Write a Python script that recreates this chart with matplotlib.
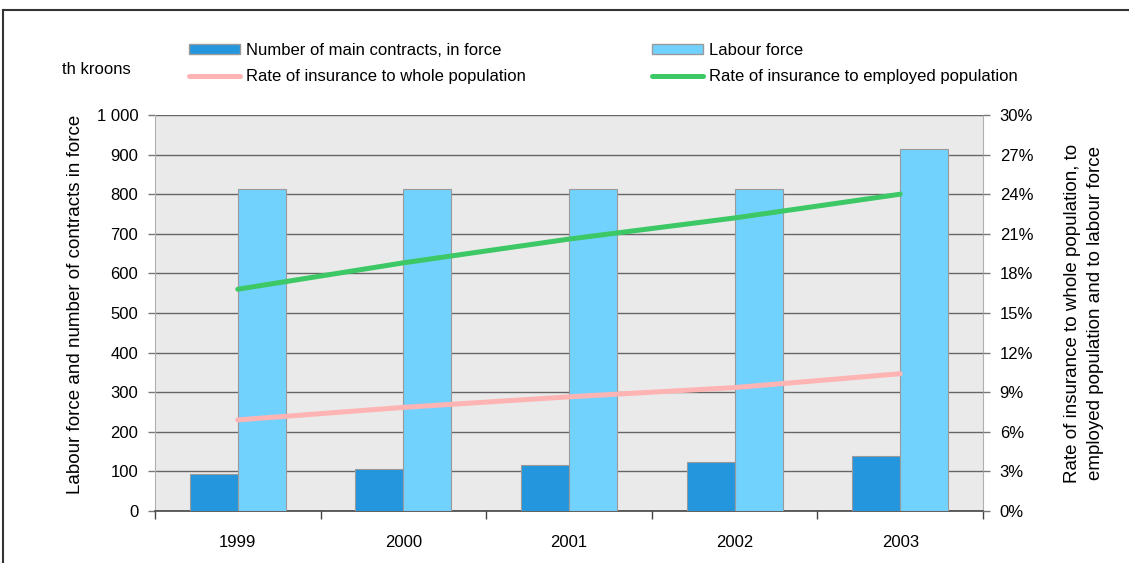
import matplotlib
matplotlib.use("Agg")
import matplotlib.pyplot as plt
from matplotlib.lines import Line2D
from matplotlib.patches import Patch
import numpy as np

plt.rcParams['font.family'] = ['Liberation Sans', 'DejaVu Sans']

years = ['1999', '2000', '2001', '2002', '2003']
contracts = [94, 105, 115, 125, 140]          # th, main contracts in force
labour_force = [813, 813, 813, 813, 915]      # th
rate_whole = [6.9, 7.85, 8.65, 9.35, 10.4]    # %
rate_employed = [16.8, 18.8, 20.6, 22.2, 24.0]  # %

c_dark = '#2396DE'
c_light = '#72D2FE'
c_pink = '#FFB4B4'
c_green = '#3CC864'
c_grid = '#666666'
lw_rate = 3.6

W, H = 1129, 563
fig = plt.figure(figsize=(W / 100, H / 100), dpi=100)
ax = fig.add_axes([155 / W, 52 / H, 828 / W, 396 / H])
ax.set_facecolor('#EAEAEA')

x = np.arange(len(years))
w = 0.29
ax.bar(x - w / 2, contracts, w, color=c_dark, edgecolor='#9a9a9a', linewidth=0.8, zorder=3)
ax.bar(x + w / 2, labour_force, w, color=c_light, edgecolor='#9a9a9a', linewidth=0.8, zorder=3)

ax.set_xlim(-0.5, len(years) - 0.5)
ax.set_ylim(0, 1000)
ax.set_yticks(range(0, 1001, 100))
ax.set_yticklabels(['0', '100', '200', '300', '400', '500', '600', '700', '800', '900', '1 000'])
ax.yaxis.grid(True, color=c_grid, linewidth=1.0, zorder=1)
ax.set_axisbelow(True)

# category ticks sit between the groups, labels in the middle
ax.set_xticks(np.arange(-0.5, len(years), 1.0))
ax.set_xticklabels([])
ax.set_xticks(x, minor=True)
ax.set_xticklabels(years, minor=True)
ax.tick_params(axis='x', which='major', length=6, width=1, color='#444444', direction='out')
ax.tick_params(axis='x', which='minor', length=0, pad=17, labelsize=12)
ax.tick_params(axis='y', length=5, width=1, color='#777777', labelsize=12, pad=7)

for side in ['left', 'right']:
    ax.spines[side].set_color('#b0b0b0')
ax.spines['top'].set_visible(False)
ax.spines['bottom'].set_color('#444444')
ax.spines['bottom'].set_linewidth(1.2)

ax.set_ylabel('Labour force and number of contracts in force', fontsize=13.5)
ax.yaxis.set_label_coords(-0.086, 0.523)

ax2 = ax.twinx()
ax2.plot(x, rate_whole, color=c_pink, linewidth=lw_rate, solid_capstyle='round', zorder=5)
ax2.plot(x, rate_employed, color=c_green, linewidth=lw_rate, solid_capstyle='round', zorder=5)
ax2.set_ylim(0, 30)
ax2.set_yticks(range(0, 31, 3))
ax2.set_yticklabels([f'{v}%' for v in range(0, 31, 3)])
ax2.tick_params(axis='y', length=5, width=1, color='#777777', labelsize=12, pad=7)
for side in ['left', 'right', 'top', 'bottom']:
    ax2.spines[side].set_visible(False)
ax2.set_ylabel('Rate of insurance to whole population, to\nemployed population and to labour force',
               fontsize=13.5, labelpad=22, linespacing=1.5)

fig.text(62 / W, 1 - 70 / H, 'th kroons', fontsize=12, ha='left', va='center')

# legend: two columns placed separately
leg_kw = dict(loc='center left', frameon=False, fontsize=12, handlelength=3.06,
              handleheight=0.55, handletextpad=0.35, labelspacing=0.68,
              borderpad=0, borderaxespad=0)
col1 = fig.legend([Patch(facecolor=c_dark, edgecolor='#9a9a9a'),
                   Line2D([], [], color=c_pink, linewidth=lw_rate, solid_capstyle='round')],
                  ['Number of main contracts, in force', 'Rate of insurance to whole population'],
                  bbox_to_anchor=(189 / W, 1 - 63.5 / H), **leg_kw)
col2 = fig.legend([Patch(facecolor=c_light, edgecolor='#9a9a9a'),
                   Line2D([], [], color=c_green, linewidth=lw_rate, solid_capstyle='round')],
                  ['Labour force', 'Rate of insurance to employed population'],
                  bbox_to_anchor=(652 / W, 1 - 63.5 / H), **leg_kw)

# outer frame, open on the right and bottom
fig.add_artist(Line2D([3 / W, 1.0], [1 - 10 / H, 1 - 10 / H], color='#333333', linewidth=1.5))
fig.add_artist(Line2D([3 / W, 3 / W], [0, 1 - 10 / H], color='#333333', linewidth=1.5))

fig.savefig('out.png', dpi=100)
